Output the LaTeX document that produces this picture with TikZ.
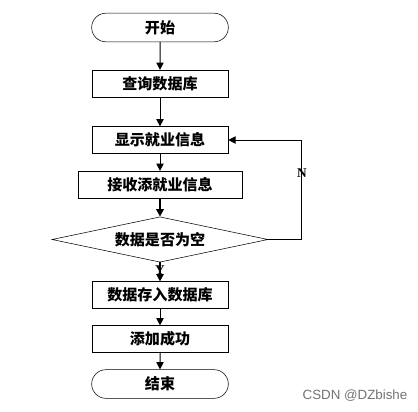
\documentclass[tikz,border=0pt]{standalone}
\usepackage{fontspec}
\setmainfont{Liberation Serif}
\newfontfamily\cjk{Noto Sans CJK SC}
\newfontfamily\wmfont{Liberation Sans}
\usetikzlibrary{shapes.geometric,shapes.misc,arrows.meta}

\begin{document}
\begin{tikzpicture}[x=0.75pt,y=-0.75pt,
	every node/.style={font=\cjk\bfseries\fontsize{11.3}{12}\selectfont},
	box/.style={draw,rectangle,minimum width=102pt,minimum height=20pt,inner sep=0pt},
	term/.style={draw,rounded rectangle,minimum width=102.5pt,minimum height=21.5pt,inner sep=0pt},
	decide/.style={draw,diamond,minimum width=162pt,minimum height=34pt,inner sep=0pt,aspect=4.8},
	flow/.style={-{Triangle[length=5.5pt,width=5.5pt]},line width=0.75pt},
	yn/.style={font=\bfseries\fontsize{10}{11}\selectfont}]

\useasboundingbox (0,0) rectangle (418,411);

% flow chart nodes
\node[term] (start) at (160,27.5) {开始};
\node[box] (query) at (160,83.5) {查询数据库};
\node[box] (show) at (160,140) {显示就业信息};
\node[box,minimum width=123pt] (recv) at (160,184.5) {接收添就业信息};
\node[decide] (empty) at (160,239.5) {数据是否为空};
\node[box] (store) at (160,295) {数据存入数据库};
\node[box] (ok) at (160,339) {添加成功};
\node[term] (stop) at (160,384) {结束};

% connectors
\draw[flow] (start) -- (query);
\draw[flow] (query) -- (show);
\draw[flow] (show) -- (recv);
\draw[flow,line width=1.5pt] (recv) -- (empty);
\draw[flow,line width=1.2pt] (empty) -- (store);
\draw[flow] (store) -- (ok);
\draw[flow] (ok) -- (stop);

% loop back when empty
\coordinate (back) at (301,239.5);
\draw[flow] (empty.east) -- (back) |- (show.east);
\node[yn] (no) at (302,173) {N};
\node[yn] (yes) at (160,270) {Y};

\node[font=\wmfont\fontsize{10}{11}\selectfont,text=black!55] (mark) at (355,396) {CSDN @DZbishe};

\end{tikzpicture}
\end{document}
